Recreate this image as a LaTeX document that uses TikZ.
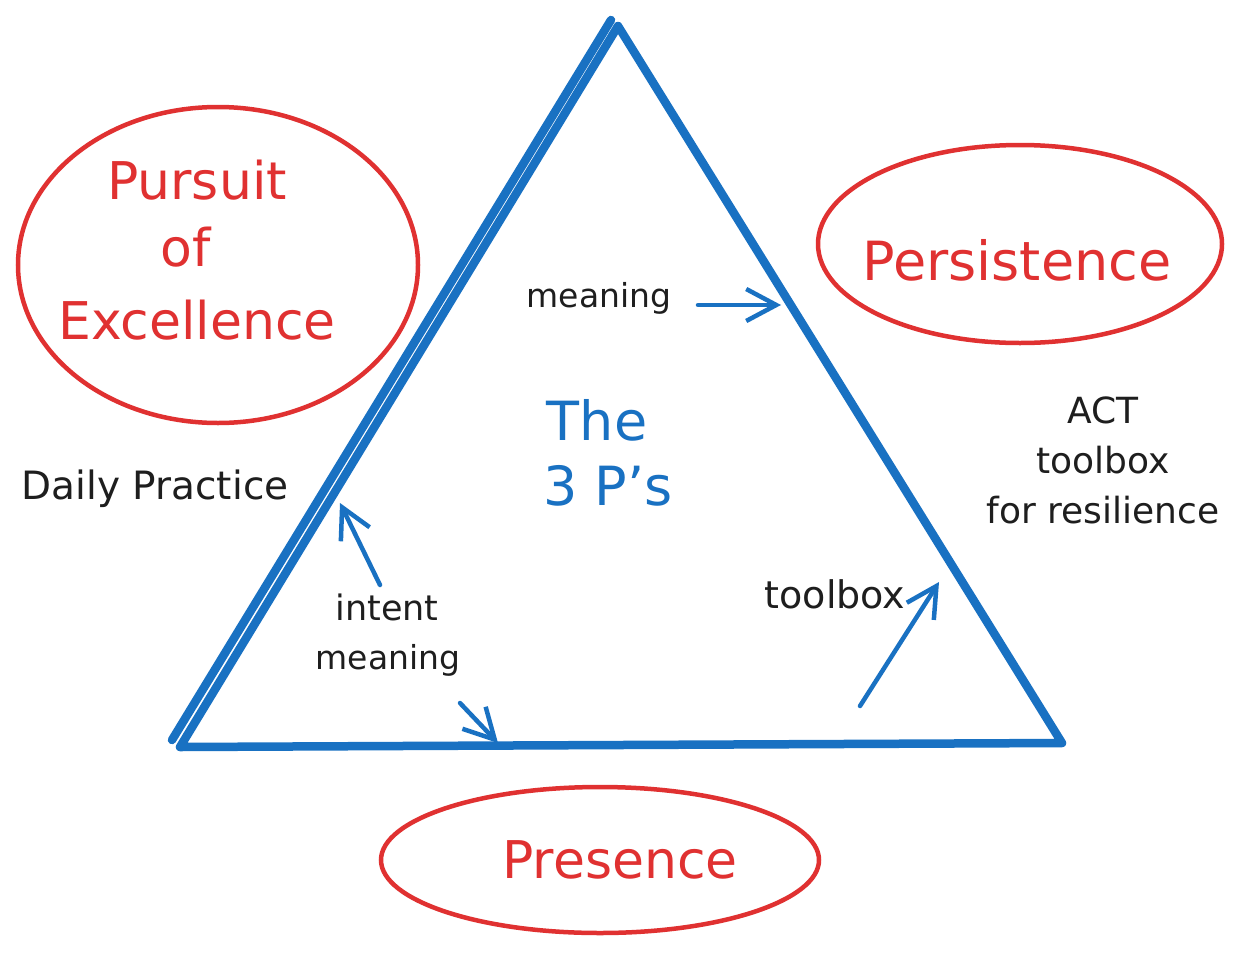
\documentclass[tikz,border=0pt]{standalone}
\usepackage{fontspec}
\setmainfont{DejaVu Sans}
\usetikzlibrary{arrows.meta}
\definecolor{exblue}{HTML}{1971C2}
\definecolor{exred}{HTML}{E03131}
\definecolor{exblack}{HTML}{1E1E1E}
\tikzset{
  tri/.style={draw=exblue, line width=8.5pt, line cap=round, line join=round},
  oval/.style={draw=exred, line width=4.5pt},
  redtxt/.style={text=exred, font=\fontsize{52}{66}\selectfont, align=center, inner sep=0pt},
  bluetxt/.style={text=exblue, font=\fontsize{54}{66}\selectfont, align=center, inner sep=0pt},
  blktxt/.style={text=exblack, font=\fontsize{35}{50}\selectfont, align=center, inner sep=0pt},
  arr/.style={draw=exblue, line width=4.5pt, line cap=round, -{Straight Barb[length=30pt,width=32pt,line width=4.5pt]}}
}
\begin{document}
\begin{tikzpicture}[x=1pt,y=-1pt]
\useasboundingbox[fill=white] (0,0) rectangle (1247,964);
% triangle corners
\coordinate (A1) at (611,20);
\coordinate (A2) at (618,26);
\coordinate (BL1) at (172,740);
\coordinate (BL2) at (180,747);
\coordinate (BR) at (1062,743);
\draw[tri] (A1) -- (BL1);
\draw[tri] (A2) -- (BL2) -- (BR) -- cycle;
% ellipses
\draw[oval] (218,265) ellipse [x radius=200, y radius=158];
\draw[oval] (1020,244) ellipse [x radius=202, y radius=99];
\draw[oval] (600,860) ellipse [x radius=219, y radius=73];
% red labels
\node[redtxt] (pursuit) at (197,180) {Pursuit};
\node[redtxt] (of) at (186,247) {of};
\node[redtxt] (excel) at (197,320) {Excellence};
\node[redtxt, font=\fontsize{54}{66}\selectfont] (persist) at (1017,260) {Persistence};
\node[redtxt] (presence) at (620,860) {Presence};
% blue labels
\node[bluetxt] (the) at (597,420) {The};
\node[bluetxt] (threeps) at (608,486) {3 P's};
% black labels
\node[blktxt, font=\fontsize{33}{50}\selectfont] (meaning) at (599,298) {meaning};
\node[blktxt, font=\fontsize{39}{50}\selectfont] (daily) at (155,489) {Daily Practice};
\node[blktxt] (intent) at (387,607) {intent};
\node[blktxt, font=\fontsize{33}{50}\selectfont] (meaning2) at (388,660) {meaning};
\node[blktxt, font=\fontsize{38}{50}\selectfont] (toolbox) at (835,594) {toolbox};
\node[blktxt, font=\fontsize{36}{50}\selectfont] (act) at (1103,460) {ACT\\toolbox\\for resilience};
% arrows
\coordinate (m1) at (698,305);
\coordinate (m2) at (781,305);
\coordinate (i1) at (380,585);
\coordinate (i2) at (340,503);
\coordinate (n1) at (460,703);
\coordinate (n2) at (498,743);
\coordinate (t1) at (860,706);
\coordinate (t2) at (939,582);
\draw[arr] (m1) -- (m2);
\draw[arr] (i1) -- (i2);
\draw[arr] (n1) -- (n2);
\draw[arr] (t1) -- (t2);
\end{tikzpicture}
\end{document}
